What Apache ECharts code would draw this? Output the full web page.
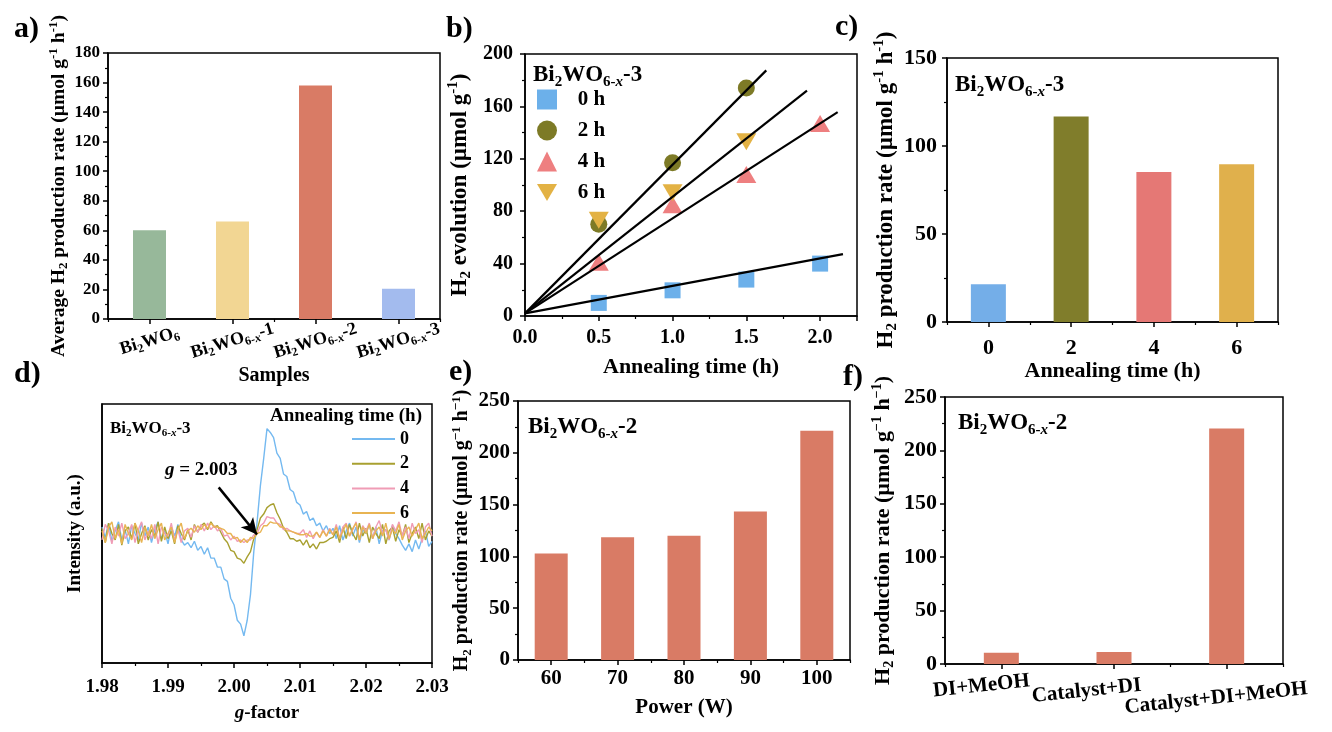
<!DOCTYPE html>
<html><head><meta charset="utf-8">
<script src="https://cdn.jsdelivr.net/npm/echarts@6/dist/echarts.min.js"></script>
<style>html,body{margin:0;padding:0;background:#fff}#c{width:1332px;height:732px}</style>
</head><body><div id="c"></div>
<script>
// ---------------- data ----------------
const sampleNames = ['Bi2WO6', 'Bi2WO6-x-1', 'Bi2WO6-x-2', 'Bi2WO6-x-3'];
const sampleRates = [60, 66, 158, 20.5];

const evoTimes4 = [0.5, 1.0, 1.5, 2.0];
const evoTimes3 = [0.5, 1.0, 1.5];
const evo0h = [10, 19.6, 27.8, 40];
const evo2h = [70, 117, 174];
const evo4h = [41, 85, 108, 147];
const evo6h = [73, 94, 133];
const fit0h = [[0, 2], [2.155, 47.2]];
const fit2h = [[0, 2], [1.635, 187.5]];
const fit4h = [[0, 2], [2.119, 155.6]];
const fit6h = [[0, 2], [1.911, 172]];

const annealLabels = ['0', '2', '4', '6'];
const annealRates = [21.5, 116.8, 85.2, 89.6];

const powerLabels = ['60', '70', '80', '90', '100'];
const powerRates = [102.8, 118.6, 119.9, 143.3, 221.4];

const condLabels = ['DI+MeOH', 'Catalyst+DI', 'Catalyst+DI+MeOH'];
const condRates = [10.6, 11.2, 220.4];

const gFactor = [
1.9800,1.9805,1.9810,1.9815,1.9820,1.9825,1.9830,1.9835,1.9840,1.9845,
1.9850,1.9855,1.9860,1.9865,1.9870,1.9875,1.9880,1.9885,1.9890,1.9895,
1.9900,1.9905,1.9910,1.9915,1.9920,1.9925,1.9930,1.9935,1.9940,1.9945,
1.9950,1.9955,1.9960,1.9965,1.9970,1.9975,1.9980,1.9985,1.9990,1.9995,
2.0000,2.0005,2.0010,2.0015,2.0020,2.0025,2.0030,2.0035,2.0040,2.0045,
2.0050,2.0055,2.0060,2.0065,2.0070,2.0075,2.0080,2.0085,2.0090,2.0095,
2.0100,2.0105,2.0110,2.0115,2.0120,2.0125,2.0130,2.0135,2.0140,2.0145,
2.0150,2.0155,2.0160,2.0165,2.0170,2.0175,2.0180,2.0185,2.0190,2.0195,
2.0200,2.0205,2.0210,2.0215,2.0220,2.0225,2.0230,2.0235,2.0240,2.0245,
2.0250,2.0255,2.0260,2.0265,2.0270,2.0275,2.0280,2.0285,2.0290,2.0295,
2.0300];
const epr0 = [
5,-3,8,-6,2,9,-5,3,-8,6,0,-5,8,-2,5,-7,3,9,-4,2,-8,5,-2,7,-5,-9,
-7,-11,-6,-13,-10,-16,-11,-19,-19,-26,-26,-35,-37,-50,-55,-67,-70,-79,-67,-47,
-14,9,37,58,81,78,74,62,58,46,44,34,32,24,22,15,17,10,12,6,8,2,6,0,4,
-4,6,-5,2,8,-2,5,-7,3,0,7,-4,5,-8,2,3,-5,6,0,-4,-9,-13,-8,-14,-5,-12,-4,2,-10,-6];
const epr2 = [
4,-7,8,0,-5,7,-9,2,5,-4,8,-8,0,6,-5,3,-2,9,-6,5,-4,2,-8,6,0,-5,
3,-5,7,1,6,8,3,9,5,6,1,-4,-7,-13,-14,-19,-20,-23,-18,-14,
-4,3,12,15,20,22,23,16,11,4,1,-4,-4,-6,-5,-9,-5,-11,-8,-12,-7,-7,-6,-4,-3,
2,-7,5,-4,7,0,-5,8,-2,4,-7,5,0,-4,7,-8,2,5,-6,3,-2,7,-7,0,5,-4,8,-5,2,-2];
const epr4 = [
-5,7,2,-8,5,-2,8,-4,0,7,-7,3,9,-5,2,-4,7,-8,5,0,-2,8,-5,3,-7,2,
4,-3,6,1,7,2,8,3,6,2,4,-2,-1,-5,-2,-6,-5,-7,-5,-5,
-1,0,6,8,13,12,12,8,7,3,4,2,1,0,0,3,-3,2,-4,1,-3,3,-2,4,-1,
7,-4,5,8,-2,3,9,-5,6,2,8,-4,5,10,0,3,-5,7,2,9,-2,5,-4,8,0,3,-7,5,8,-2];
const epr6 = [
2,-7,5,9,-4,3,-8,7,0,-5,8,2,-7,5,-2,7,-4,3,8,-5,0,5,-7,3,8,-4,
2,4,1,6,3,7,4,8,5,5,4,3,0,0,-4,-3,-7,-4,-7,-3,
-4,0,1,6,6,9,8,8,5,5,2,2,1,0,-1,-1,0,-2,-2,1,-3,2,-2,3,-1,
5,-4,2,7,-2,4,8,-5,5,0,7,-4,2,5,-2,8,-4,3,0,7,-5,2,5,-2,3,8,-4,0,5,2];
const arrowFrom = [1.99768, 35.6];
const arrowTo = [2.00348, -0.8];

// ---------------- styles ----------------
const FF = '"Liberation Serif", "Times New Roman", serif';
const sampleColors = ['#97b89a', '#f2d693', '#d97b65', '#a3bbee'];
const annealColors = ['#74aee8', '#807d2b', '#e57875', '#e0b04c'];
const eprColors = ['#74b9f0', '#a8a030', '#f09cb5', '#e8b452'];
const barRed = '#d97b65';
const condLabelPad = [[0, 40, 0, 0], [0, 56, 0, 0], [0, 24, 0, 0]];
const condLabelDrop = [0, 8, 26];

function rich(size) {
  const base = {fontFamily: FF, fontWeight: 'bold', color: '#000', fill: '#000'};
  const lh = Math.round(size * 1.2);
  const ss = Math.round(size * 0.65);
  return {
    n: Object.assign({}, base, {fontSize: size, lineHeight: lh}),
    i: Object.assign({}, base, {fontSize: size, lineHeight: lh, fontStyle: 'italic'}),
    s: Object.assign({}, base, {fontSize: ss, lineHeight: ss, verticalAlign: 'bottom'}),
    si: Object.assign({}, base, {fontSize: ss, lineHeight: ss, verticalAlign: 'bottom', fontStyle: 'italic'}),
    p: Object.assign({}, base, {fontSize: ss, lineHeight: ss, verticalAlign: 'top'})
  };
}
function chem(name) {
  if (name === 'Bi2WO6') return '{n|Bi}{s|2}{n|WO}{s|6}';
  const suffix = name.split('-x')[1];
  return '{n|Bi}{s|2}{n|WO}{s|6-}{si|x}{n|' + suffix + '}';
}
const rateName = '{n|H}{s|2}{n| production rate (µmol g}{p|-1}{n| h}{p|-1}{n|)}';
const rateName2 = '{n|H}{s|2}{n| production rate (µmol g}{p|−1}{n| h}{p|−1}{n|)}';

const condRich = Object.assign(rich(21), {
  g1: {fontSize: 4, lineHeight: condLabelDrop[1]},
  g2: {fontSize: 4, lineHeight: condLabelDrop[2]}
});
function condFormatter(value, index) {
  return (condLabelDrop[index] ? '{g' + index + '| }\n' : '') + '{n|' + value + '}';
}

function valAxis(grid, size, extra) {
  return Object.assign({
    type: 'value', gridIndex: grid,
    axisLine: {show: true, onZero: false, lineStyle: {color: '#000', width: 1.5}},
    axisTick: {show: true, length: 5, lineStyle: {color: '#000', width: 1.5}},
    minorTick: {show: true, splitNumber: 2, length: 3, lineStyle: {color: '#000', width: 1.2}},
    splitLine: {show: false},
    axisLabel: {color: '#000', fontFamily: FF, fontWeight: 'bold', fontSize: size, margin: 8}
  }, extra);
}
function catAxis(grid, data, size, extra) {
  return Object.assign({
    type: 'category', gridIndex: grid, data: data, position: 'bottom',
    axisLine: {show: true, onZero: false, lineStyle: {color: '#000', width: 1.5}},
    axisTick: {show: true, alignWithLabel: true, length: 5, lineStyle: {color: '#000', width: 1.5}},
    splitLine: {show: false},
    axisLabel: {color: '#000', fontFamily: FF, fontWeight: 'bold', fontSize: size, margin: 8}
  }, extra);
}
function boundaryAxis(grid, data) {
  return {
    type: 'category', gridIndex: grid, data: data, position: 'bottom',
    axisLine: {show: false, onZero: false}, axisLabel: {show: false}, splitLine: {show: false},
    axisTick: {show: true, length: 3, lineStyle: {color: '#000', width: 1.2}}
  };
}
function nameStyle(size) {
  return {rich: rich(size), fontFamily: FF, fontWeight: 'bold', fontSize: size, color: '#000'};
}
function gtext(left, top, text, size) {
  return {type: 'text', left: left, top: top, z: 100,
    style: {text: text, rich: rich(size), font: 'bold ' + size + 'px ' + FF, fill: '#000'}};
}
const gridBase = {show: true, borderColor: '#000', borderWidth: 1.5, backgroundColor: 'transparent'};

const option = {
  animation: false,
  backgroundColor: '#fff',
  grid: [
    Object.assign({left: 108, top: 53, width: 332, height: 266}, gridBase),
    Object.assign({left: 525, top: 54, width: 332, height: 262}, gridBase),
    Object.assign({left: 947, top: 58, width: 331, height: 264}, gridBase),
    Object.assign({left: 102, top: 404, width: 330, height: 259}, gridBase),
    Object.assign({left: 518, top: 401, width: 332, height: 259}, gridBase),
    Object.assign({left: 945, top: 397, width: 338, height: 267}, gridBase)
  ],
  xAxis: [
    catAxis(0, sampleNames, 18, {
      axisLabel: {color: '#000', fontSize: 18, rotate: 17, align: 'center', verticalAlign: 'middle', margin: 22,
        interval: 0, formatter: chem, rich: rich(18)},
      name: '{n|Samples}', nameLocation: 'middle', nameGap: 38, nameTextStyle: nameStyle(20)
    }),
    boundaryAxis(0, sampleNames),
    valAxis(1, 20, {
      min: 0, max: 2.25, interval: 0.5,
      axisLabel: {color: '#000', fontFamily: FF, fontWeight: 'bold', fontSize: 20, margin: 12, showMaxLabel: false,
        formatter: v => v.toFixed(1)},
      name: '{n|Annealing time (h)}', nameLocation: 'middle', nameGap: 38, nameTextStyle: nameStyle(22)
    }),
    catAxis(2, annealLabels, 22, {
      axisLabel: {color: '#000', fontFamily: FF, fontWeight: 'bold', fontSize: 22, margin: 15},
      name: '{n|Annealing time (h)}', nameLocation: 'middle', nameGap: 33, nameTextStyle: nameStyle(22)
    }),
    boundaryAxis(2, annealLabels),
    valAxis(3, 19, {
      min: 1.98, max: 2.03, interval: 0.01,
      axisLabel: {color: '#000', fontFamily: FF, fontWeight: 'bold', fontSize: 19, margin: 15,
        formatter: v => v.toFixed(2)},
      name: '{i|g}{n|-factor}', nameLocation: 'middle', nameGap: 39, nameTextStyle: nameStyle(19)
    }),
    catAxis(4, powerLabels, 21, {
      axisLabel: {color: '#000', fontFamily: FF, fontWeight: 'bold', fontSize: 21, margin: 8},
      name: '{n|Power (W)}', nameLocation: 'middle', nameGap: 35, nameTextStyle: nameStyle(21)
    }),
    boundaryAxis(4, powerLabels),
    catAxis(5, condLabels.map((c, i) => ({value: c,
        textStyle: {padding: condLabelPad[i], align: 'center', verticalAlign: 'middle'}})), 21, {
      axisLabel: {color: '#000', fontFamily: FF, fontWeight: 'bold', fontSize: 21, rotate: 6, interval: 0,
        hideOverlap: false, align: 'center', verticalAlign: 'middle', margin: 20,
        formatter: condFormatter, rich: condRich}
    }),
    boundaryAxis(5, condLabels)
  ],
  yAxis: [
    valAxis(0, 17, {min: 0, max: 180, interval: 20,
      name: '{n|Average }' + rateName, nameLocation: 'middle', nameGap: 38, nameTextStyle: nameStyle(19.5)}),
    valAxis(1, 20, {min: 0, max: 200, interval: 40,
      axisLabel: {color: '#000', fontFamily: FF, fontWeight: 'bold', fontSize: 20, margin: 12},
      name: '{n|H}{s|2}{n| evolution (µmol g}{p|-1}{n|)}', nameLocation: 'middle', nameGap: 51, nameTextStyle: nameStyle(23)}),
    valAxis(2, 22, {min: 0, max: 150, interval: 50,
      axisLabel: {color: '#000', fontFamily: FF, fontWeight: 'bold', fontSize: 22, margin: 10},
      name: rateName, nameLocation: 'middle', nameGap: 46, nameTextStyle: nameStyle(23)}),
    valAxis(3, 19, {min: -100, max: 100, axisTick: {show: false}, minorTick: {show: false}, axisLabel: {show: false},
      name: '{n|Intensity (a.u.)}', nameLocation: 'middle', nameGap: 15, nameTextStyle: nameStyle(19)}),
    valAxis(4, 21, {min: 0, max: 250, interval: 50,
      name: rateName2, nameLocation: 'middle', nameGap: 44, nameTextStyle: nameStyle(20)}),
    valAxis(5, 22, {min: 0, max: 250, interval: 50,
      name: rateName2, nameLocation: 'middle', nameGap: 49, nameTextStyle: nameStyle(22)})
  ],
  legend: [
    {
      data: ['0 h', '2 h', '4 h', '6 h'], orient: 'vertical', left: 532, top: 84,
      itemWidth: 20, itemHeight: 20, itemGap: 10, selectedMode: false,
      formatter: name => '   ' + name,
      textStyle: {color: '#000', fontFamily: FF, fontWeight: 'bold', fontSize: 21}
    },
    {
      data: ['0', '2', '4', '6'], orient: 'vertical', left: 347, top: 425, icon: 'rect',
      itemWidth: 43, itemHeight: 2, itemGap: 6.7, selectedMode: false,
      textStyle: {color: '#000', fontFamily: FF, fontWeight: 'bold', fontSize: 18, lineHeight: 18}
    }
  ],
  series: [
    {type: 'bar', xAxisIndex: 0, yAxisIndex: 0, barWidth: 33,
      data: sampleRates.map((v, i) => ({value: v, itemStyle: {color: sampleColors[i]}}))},

    {type: 'scatter', name: '0 h', xAxisIndex: 2, yAxisIndex: 1, symbol: 'rect', symbolSize: 16,
      itemStyle: {color: '#6cb0ea', opacity: 1}, data: evoTimes4.map((t, i) => [t, evo0h[i]])},
    {type: 'scatter', name: '2 h', xAxisIndex: 2, yAxisIndex: 1, symbol: 'circle', symbolSize: 17,
      itemStyle: {color: '#7d7a26', opacity: 1}, data: evoTimes3.map((t, i) => [t, evo2h[i]])},
    {type: 'scatter', name: '4 h', xAxisIndex: 2, yAxisIndex: 1, symbol: 'triangle', symbolSize: [20, 17],
      itemStyle: {color: '#ee7f80', opacity: 1}, data: evoTimes4.map((t, i) => [t, evo4h[i]])},
    {type: 'scatter', name: '6 h', xAxisIndex: 2, yAxisIndex: 1, symbol: 'path://M0,0L20,0L10,17Z', symbolSize: [20, 17],
      itemStyle: {color: '#e3b244', opacity: 1}, data: evoTimes3.map((t, i) => [t, evo6h[i]])},
    ...[fit0h, fit2h, fit4h, fit6h].map(f => ({
      type: 'line', xAxisIndex: 2, yAxisIndex: 1, data: f, symbol: 'none', silent: true,
      lineStyle: {color: '#000', width: 2.2}, z: 5
    })),

    {type: 'bar', xAxisIndex: 3, yAxisIndex: 2, barWidth: 35,
      data: annealRates.map((v, i) => ({value: v, itemStyle: {color: annealColors[i]}}))},

    ...[epr0, epr2, epr4, epr6].map((arr, k) => ({
      type: 'line', name: annealLabels[k], xAxisIndex: 5, yAxisIndex: 3, symbol: 'none', showSymbol: false,
      data: gFactor.map((g, i) => [g, arr[i]]),
      lineStyle: {color: eprColors[k], width: 1.4}, itemStyle: {color: eprColors[k]},
      markLine: k === 3 ? {
        silent: true, symbol: ['none', 'arrow'], symbolSize: [12, 16], animation: false,
        label: {show: false}, lineStyle: {color: '#000', width: 2.5, type: 'solid'},
        data: [[{coord: arrowFrom}, {coord: arrowTo}]]
      } : undefined
    })),

    {type: 'bar', xAxisIndex: 6, yAxisIndex: 4, barWidth: 33, itemStyle: {color: barRed}, data: powerRates},
    {type: 'bar', xAxisIndex: 8, yAxisIndex: 5, barWidth: 35, itemStyle: {color: barRed}, data: condRates}
  ],
  graphic: [
    gtext(14, 14, '{n|a)}', 30),
    gtext(446, 14, '{n|b)}', 30),
    gtext(835, 12, '{n|c)}', 30),
    gtext(14, 359, '{n|d)}', 30),
    gtext(449, 357, '{n|e)}', 30),
    gtext(843, 362, '{n|f)}', 30),
    gtext(533, 64, chem('Bi2WO6-x-3'), 23),
    gtext(955, 74, chem('Bi2WO6-x-3'), 23),
    gtext(110, 420, chem('Bi2WO6-x-3'), 17),
    gtext(528, 416, chem('Bi2WO6-x-2'), 23),
    gtext(958, 412, chem('Bi2WO6-x-2'), 23),
    gtext(270, 407, '{n|Annealing time (h)}', 19),
    gtext(165, 461, '{i|g}{n| = 2.003}', 19)
  ]
};
const chart = echarts.init(document.getElementById('c'));
chart.setOption(option);
</script>
</body></html>
